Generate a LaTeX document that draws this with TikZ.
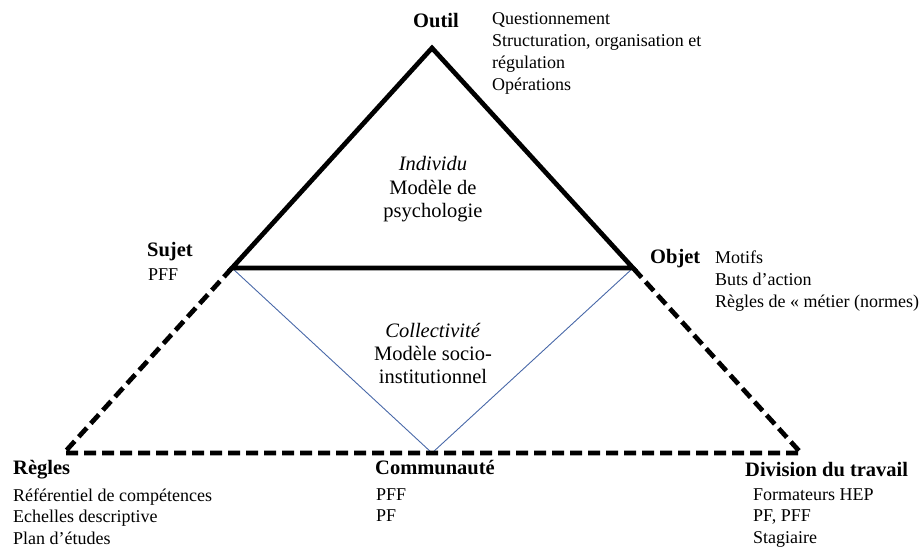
\documentclass[tikz,border=0pt]{standalone}
\usepackage{fontspec}
\setmainfont{Liberation Serif}
\definecolor{blueline}{RGB}{72,104,168}
\tikzset{
  solidedge/.style={line width=4.7pt, line join=miter},
  dashededge/.style={line width=4.7pt, dash pattern=on 12pt off 6pt, line join=miter},
  thinblue/.style={line width=0.9pt, blueline},
  lbl/.style={inner sep=0pt, anchor=base west, font=\fontsize{20.5}{24}\selectfont\bfseries},
  lst/.style={inner sep=0pt, anchor=base west, font=\fontsize{18}{21.8}\selectfont},
  ctr/.style={inner sep=0pt, anchor=base, font=\fontsize{20.5}{23.3}\selectfont},
}
\begin{document}
\begin{tikzpicture}[x=1pt,y=-1pt]
\useasboundingbox (0,0) rectangle (924,548);
% corners
\coordinate (apex) at (432,48);
\coordinate (S) at (232,268);
\coordinate (O) at (633,268);
\coordinate (BL) at (64,453);
\coordinate (BR) at (801,453);
\coordinate (BM) at (432,453);
% blue lines
\draw[thinblue] (S) -- (BM) -- (O);
% dashed lower triangle
\draw[dashededge] (S) -- (BL) -- (BR) -- (O);
% solid upper triangle
\draw[solidedge] (apex) -- (S) -- (O) -- cycle;
% labels
\node[lbl] (outil) at (413,28) {Outil};
\node[lst] (outilL) at (492,25) {\begin{tabular}[t]{@{}l@{}}Questionnement\\Structuration, organisation et\\régulation\\Opérations\end{tabular}};
\node[lbl] (sujet) at (147,257) {Sujet};
\node[lst] (sujetL) at (148,280) {PFF};
\node[lbl] (objet) at (650,264) {Objet};
\node[lst] (objetL) at (715,264) {\begin{tabular}[t]{@{}l@{}}Motifs\\Buts d’action\\Règles de « métier (normes)\end{tabular}};
\node[lbl] (regles) at (13,474) {Règles};
\node[lst] (reglesL) at (13,501) {\begin{tabular}[t]{@{}l@{}}Référentiel de compétences\\Echelles descriptive\\Plan d’études\end{tabular}};
\node[lbl] (commu) at (375,474) {Communauté};
\node[lst] (commuL) at (376,500) {\begin{tabular}[t]{@{}l@{}}PFF\\PF\end{tabular}};
\node[lbl] (divis) at (745,476) {Division du travail};
\node[lst] (divisL) at (753,500) {\begin{tabular}[t]{@{}l@{}}Formateurs HEP\\PF, PFF\\Stagiaire\end{tabular}};
% centre texts
\node[ctr] (indiv) at (433,171) {\begin{tabular}[t]{@{}c@{}}\textit{Individu}\\Modèle de\\psychologie\end{tabular}};
\node[ctr] (collec) at (433,337) {\begin{tabular}[t]{@{}c@{}}\textit{Collectivité}\\Modèle socio-\\institutionnel\end{tabular}};
\end{tikzpicture}
\end{document}
